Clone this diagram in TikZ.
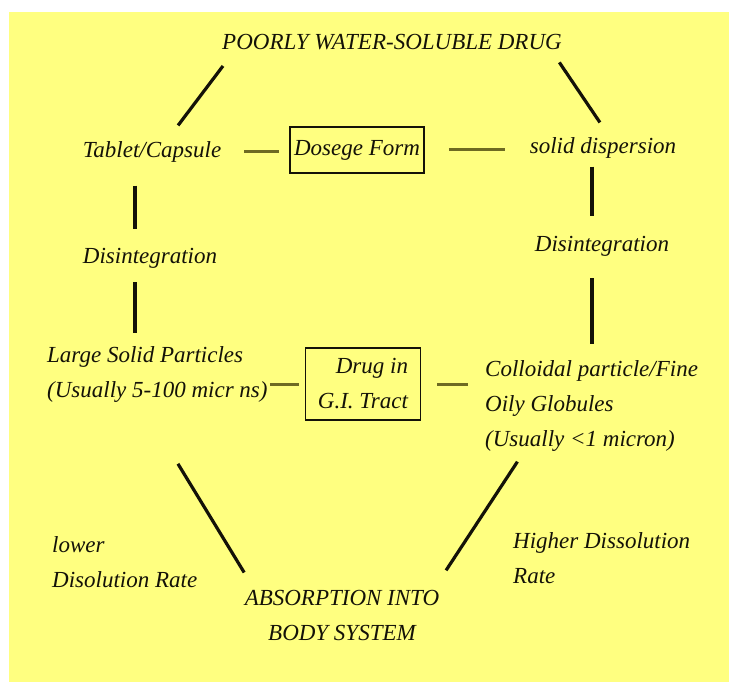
\documentclass[tikz,border=0pt]{standalone}
\usepackage{fontspec}
\setmainfont{Liberation Serif}
\usepackage{tikz}
\usetikzlibrary{positioning}
\definecolor{PaleYellow}{HTML}{FFFF80}
\definecolor{DashOlive}{HTML}{6E6A22}
\definecolor{InkBlack}{HTML}{141208}
\tikzset{%
  lbl/.style={inner sep=0pt,align=left,text=InkBlack,
    font=\itshape\fontsize{23}{35}\selectfont},
  boxlbl/.style={lbl,draw=InkBlack,line width=1.6pt,align=center},
  link/.style={line width=3.2pt,InkBlack},
  dashlink/.style={line width=3pt,DashOlive}
}
\begin{document}
\begin{tikzpicture}[x=1pt,y=-1pt]
  \useasboundingbox (0,0) rectangle (729,682);
  \fill[PaleYellow] (9,12) rectangle (729,682);

  \node[lbl] (title) at (392,42) {POORLY WATER-SOLUBLE DRUG};
  \node[lbl] (tablet) at (152,152) {Tablet/Capsule};
  \node[boxlbl, minimum width=134pt, minimum height=46pt] (dosage) at (357,150) {Dosege Form};
  \node[lbl] (solid) at (603,148) {solid dispersion};
  \node[lbl] (disL) at (150,258) {Disintegration};
  \node[lbl] (disR) at (602,246) {Disintegration};
  \node[lbl, anchor=west] (large) at (47,375) {Large Solid Particles\\(Usually 5-100 micr ns)};
  \node[boxlbl, align=right, minimum width=115pt, minimum height=72pt] (drug) at (363,384) {Drug in\\G.I. Tract};
  \node[lbl, anchor=west] (colloid) at (485,406) {Colloidal particle/Fine\\Oily Globules\\(Usually <1 micron)};
  \node[lbl, anchor=west] (lower) at (52,562) {lower\\Disolution Rate};
  \node[lbl, align=center] (absorb) at (342,615) {ABSORPTION INTO\\BODY SYSTEM};
  \node[lbl, anchor=west] (higher) at (513,558) {Higher Dissolution\\Rate};

  \coordinate (colL) at (135,0);
  \coordinate (colR) at (592,0);

  % outer ring
  \draw[link, shorten <=20pt, shorten >=20pt] ([xshift=13pt]title.south west) -- ([xshift=14pt]tablet.north);
  \draw[link, shorten <=15pt, shorten >=18pt] ([xshift=-11pt]title.south east) -- ([xshift=7pt]solid.north);
  \draw[link, shorten <=23pt, shorten >=19pt] (tablet.south -| colL) -- (disL.north -| colL);
  \draw[link, shorten <=14pt, shorten >=14pt] (disL.south -| colL) -- (large.north -| colL);
  \draw[link, shorten <=8pt, shorten >=20pt] (solid.south -| colR) -- (disR.north -| colR);
  \draw[link, shorten <=22pt, shorten >=16pt] (disR.south -| colR) -- (colloid.north -| colR);
  \draw[link, shorten <=71pt, shorten >=20pt] ([xshift=94pt]large.south west) -- ([xshift=10pt]absorb.north west);
  \draw[link, shorten <=12pt, shorten >=23pt] ([xshift=39pt]colloid.south west) -- ([xshift=-6pt]absorb.north east);

  % short links to the boxes
  \draw[dashlink, shorten <=23pt, shorten >=10pt] (tablet.east) -- (tablet.east -| dosage.west);
  \draw[dashlink, shorten <=24pt, shorten >=25pt] (dosage.east) -- (dosage.east -| solid.west);
  \draw[dashlink, shorten <=2pt, shorten >=6pt] (drug.west -| large.east) -- (drug.west);
  \draw[dashlink, shorten <=16pt, shorten >=17pt] (drug.east) -- (drug.east -| colloid.west);
\end{tikzpicture}
\end{document}
